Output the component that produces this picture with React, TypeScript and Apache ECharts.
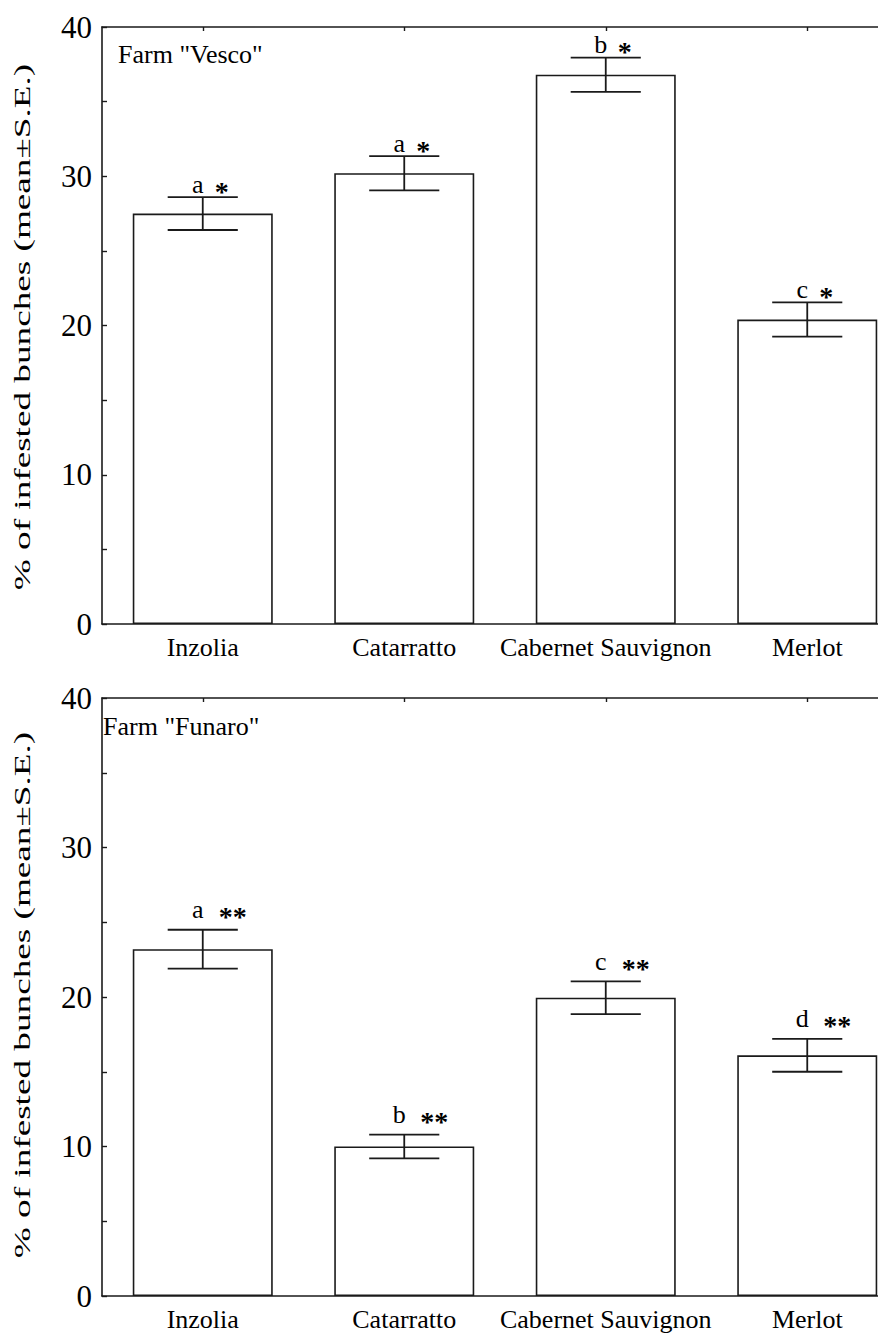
import React, { useEffect, useRef } from "react";
import * as echarts from "echarts";

const categories = ["Inzolia", "Catarratto", "Cabernet Sauvignon", "Merlot"];

const vescoMean = [27.5, 30.2, 36.8, 20.4];
const vescoSE = [1.1, 1.15, 1.15, 1.15];
const vescoLetters = ["a", "a", "b", "c"];
const vescoStars = ["*", "*", "*", "*"];

const funaroMean = [23.2, 10.0, 19.95, 16.1];
const funaroSE = [1.3, 0.8, 1.1, 1.1];
const funaroLetters = ["a", "b", "c", "d"];
const funaroStars = ["**", "**", "**", "**"];

const yMin = 0;
const yMax = 40;
const yInterval = 10;

const panelTitles = ['Farm "Vesco"', 'Farm "Funaro"'];
const yAxisTitle = "% of infested bunches (mean±S.E.)";

const FONT = "Times New Roman, Times, Tinos, Nimbus Roman, Liberation Serif, serif";
const INK = "#1a1a1a";

export default function App() {
  const ref = useRef<HTMLDivElement>(null);

  useEffect(() => {
    if (!ref.current) return;
    const chart = echarts.init(ref.current, null, { renderer: "svg" });

    const grids = [
      { left: 102, top: 27, width: 806, height: 597 },
      { left: 102, top: 698, width: 806, height: 598 },
    ];

    const xAxes: any[] = [];
    const yAxes: any[] = [];
    grids.forEach((_, gi) => {
      xAxes.push({
        type: "category",
        gridIndex: gi,
        data: categories,
        boundaryGap: true,
        axisLine: { show: true, lineStyle: { color: INK, width: 1.6 } },
        axisTick: { show: true, inside: true, alignWithLabel: true, length: 4, lineStyle: { color: INK, width: 1.4 } },
        axisLabel: { color: "#000", fontSize: 26, fontFamily: FONT, margin: 10, interval: 0 },
        splitLine: { show: false },
      });
      xAxes.push({
        type: "category",
        gridIndex: gi,
        position: "top",
        data: categories,
        boundaryGap: true,
        axisLine: { show: true, onZero: false, lineStyle: { color: INK, width: 1.6 } },
        axisTick: { show: true, inside: true, alignWithLabel: true, length: 4, lineStyle: { color: INK, width: 1.4 } },
        axisLabel: { show: false },
        splitLine: { show: false },
      });
      yAxes.push({
        type: "value",
        gridIndex: gi,
        min: yMin,
        max: yMax,
        interval: yInterval,
        axisLine: { show: true, lineStyle: { color: INK, width: 1.6 } },
        axisTick: { show: true, inside: true, length: 5, lineStyle: { color: INK, width: 1.4 } },
        minorTick: { show: true, splitNumber: 2, length: 5, lineStyle: { color: INK, width: 1.4 } },
        axisLabel: { color: "#000", fontSize: 31, fontFamily: FONT, margin: 10 },
        splitLine: { show: false },
      });
    });

    const panels = [
      { mean: vescoMean, se: vescoSE, letters: vescoLetters, stars: vescoStars, labelGap: 13, starDx: 19 },
      { mean: funaroMean, se: funaroSE, letters: funaroLetters, stars: funaroStars, labelGap: 20, starDx: 30 },
    ];

    const series: any[] = [];
    panels.forEach((p, gi) => {
      series.push({
        type: "bar",
        xAxisIndex: gi * 2,
        yAxisIndex: gi,
        data: p.mean,
        barWidth: 140,
        itemStyle: { color: "#fff", borderColor: INK, borderWidth: 1.6 },
        z: 2,
      });
      series.push({
        type: "custom",
        xAxisIndex: gi * 2,
        yAxisIndex: gi,
        z: 5,
        data: p.mean.map((m, i) => [i, m, p.se[i]]),
        encode: { x: 0, y: 1 },
        renderItem: (params: any, api: any) => {
          const idx = api.value(0);
          const m = api.value(1);
          const s = api.value(2);
          const hi = api.coord([idx, m + s]);
          const lo = api.coord([idx, m - s]);
          const half = api.size([1, 0])[0] * 0.174;
          const st = { stroke: INK, lineWidth: 1.8 };
          return {
            type: "group",
            children: [
              { type: "line", shape: { x1: hi[0], y1: hi[1], x2: lo[0], y2: lo[1] }, style: st },
              { type: "line", shape: { x1: hi[0] - half, y1: hi[1], x2: hi[0] + half, y2: hi[1] }, style: st },
              { type: "line", shape: { x1: lo[0] - half, y1: lo[1], x2: lo[0] + half, y2: lo[1] }, style: st },
              {
                type: "text",
                x: hi[0] - 5,
                y: hi[1] - p.labelGap,
                style: {
                  text: p.letters[params.dataIndex],
                  fontSize: 26,
                  fontFamily: FONT,
                  fill: "#000",
                  align: "center",
                  verticalAlign: "middle",
                },
              },
              {
                type: "text",
                x: hi[0] + p.starDx,
                y: hi[1] - p.labelGap + 7,
                style: {
                  text: p.stars[params.dataIndex],
                  fontSize: 28,
                  fontWeight: "bold",
                  fontFamily: FONT,
                  fill: "#000",
                  align: "center",
                  verticalAlign: "middle",
                },
              },
            ],
          };
        },
      });
    });

    const graphic: any[] = [
      {
        type: "text",
        left: 118,
        top: 41,
        style: { text: panelTitles[0], fontSize: 26, fontFamily: FONT, fill: "#000" },
      },
      {
        type: "text",
        left: 103,
        top: 713,
        style: { text: panelTitles[1], fontSize: 26, fontFamily: FONT, fill: "#000" },
      },
      {
        type: "text",
        x: 22,
        y: 327,
        rotation: Math.PI / 2,
        scaleX: 1.55,
        style: { text: yAxisTitle, fontSize: 24, fontFamily: FONT, fill: "#000", align: "center", verticalAlign: "middle" },
      },
      {
        type: "text",
        x: 22,
        y: 995,
        rotation: Math.PI / 2,
        scaleX: 1.55,
        style: { text: yAxisTitle, fontSize: 24, fontFamily: FONT, fill: "#000", align: "center", verticalAlign: "middle" },
      },
    ];

    chart.setOption({
      animation: false,
      backgroundColor: "#fff",
      grid: grids,
      xAxis: xAxes,
      yAxis: yAxes,
      series,
      graphic,
    });

    return () => chart.dispose();
  }, []);

  return (
    <div style={{ position: "absolute", left: 0, top: 0, width: 878, height: 1336, overflow: "hidden", background: "#fff" }}>
      <div ref={ref} style={{ width: 910, height: 1336 }} />
    </div>
  );
}
